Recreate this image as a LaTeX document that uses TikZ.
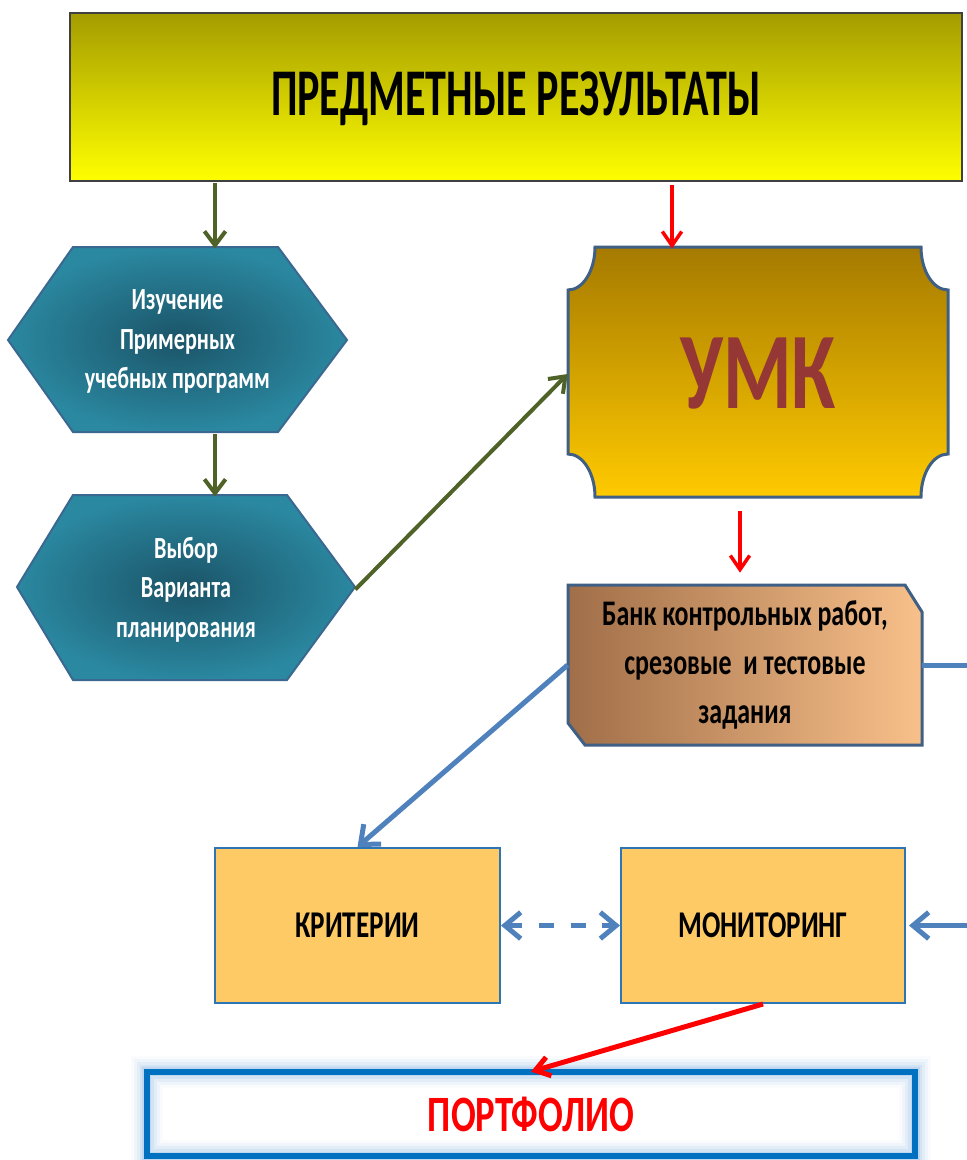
\documentclass[tikz,border=0pt]{standalone}
\usepackage{fontspec}
\setmainfont{Carlito}[FakeStretch=0.72]
\newfontfamily\titlefont{Carlito}[FakeStretch=0.63]
\usetikzlibrary{arrows.meta,calc}

\definecolor{titletop}{HTML}{A49C00}
\definecolor{titlebot}{HTML}{FFFF00}
\definecolor{titleline}{HTML}{404040}
\definecolor{hexdark}{HTML}{1B5468}
\definecolor{hexlight}{HTML}{2A88A0}
\definecolor{hexline}{HTML}{3A6890}
\definecolor{umktop}{HTML}{A57A00}
\definecolor{umkbot}{HTML}{FFCA00}
\definecolor{umktext}{HTML}{953735}
\definecolor{boxline}{HTML}{3F5F85}
\definecolor{bankdark}{HTML}{A06E48}
\definecolor{banklight}{HTML}{F8C08A}
\definecolor{critfill}{HTML}{FECA66}
\definecolor{critline}{HTML}{2E75B6}
\definecolor{olivearrow}{HTML}{4F6228}
\definecolor{bluearrow}{HTML}{4F81BD}
\definecolor{portline}{HTML}{0070C0}
\definecolor{glowblue}{HTML}{9DC3E6}

\def\pxu{0.02cm}

\tikzset{
  textbox/.style={rectangle, inner sep=0pt, align=center},
  greenarrow/.style={draw=olivearrow, line width=4*\pxu,
    -{Straight Barb[length=8pt,width=12pt]}},
  redarrow/.style={draw=red, line width=3.5*\pxu,
    -{Straight Barb[length=8pt,width=11pt]}},
  bluearrow/.style={draw=bluearrow, line width=5*\pxu,
    -{Straight Barb[length=9pt,width=15pt]}},
}

\begin{document}
\begin{tikzpicture}[x=\pxu,y=-\pxu]
  \fill[white] (0,0) rectangle (967,1160);
  \clip (0,0) rectangle (967,1160);

  %%%%%%%%%%%%%%%%%%%%%%%%%%%%%%%%%%%%%%%%%%%%%%%%%%%%%%%%%%%%%%%%%%%%%%%%%%%
  %%%%  Title
  \shade[top color=titletop, bottom color=titlebot, draw=titleline, line width=1.5*\pxu]
    (70,13) rectangle (962,181);
  \node[textbox, minimum width=892*\pxu, minimum height=168*\pxu,
    font=\titlefont\fontsize{38}{40}\selectfont\bfseries] (title) at (516,99) {ПРЕДМЕТНЫЕ РЕЗУЛЬТАТЫ};

  %%%%%%%%%%%%%%%%%%%%%%%%%%%%%%%%%%%%%%%%%%%%%%%%%%%%%%%%%%%%%%%%%%%%%%%%%%%
  %%%%  Hexagons
  \shade[inner color=hexdark, outer color=hexlight, draw=hexline, line width=2*\pxu]
    (8,340) -- (73,247) -- (278,247) -- (347,340) -- (278,432) -- (73,432) -- cycle;
  \node[textbox, text=white, minimum width=339*\pxu, minimum height=185*\pxu,
    font=\fontsize{17.5}{22.5}\selectfont\bfseries] (study) at (177.5,341.5)
    {Изучение\\Примерных\\учебных программ};

  \shade[inner color=hexdark, outer color=hexlight, draw=hexline, line width=2*\pxu]
    (17,587) -- (73,495) -- (287,495) -- (355,587) -- (287,680) -- (73,680) -- cycle;
  \node[textbox, text=white, minimum width=338*\pxu, minimum height=185*\pxu,
    font=\fontsize{17.5}{22.5}\selectfont\bfseries] (choice) at (186,589.5)
    {Выбор\\Варианта\\планирования};

  %%%%%%%%%%%%%%%%%%%%%%%%%%%%%%%%%%%%%%%%%%%%%%%%%%%%%%%%%%%%%%%%%%%%%%%%%%%
  %%%%  UMK plaque
  \shade[top color=umktop, bottom color=umkbot, draw=boxline, line width=3*\pxu]
    (595,247) -- (921,247) arc[start angle=180, end angle=90, x radius=27, y radius=43]
    -- (948,454) arc[start angle=-90, end angle=-180, x radius=27, y radius=43]
    -- (595,497) arc[start angle=0, end angle=-90, x radius=27, y radius=43]
    -- (568,290) arc[start angle=90, end angle=0, x radius=27, y radius=43] -- cycle;
  \node[textbox, text=umktext, minimum width=380*\pxu, minimum height=250*\pxu,
    font=\fontsize{62}{62}\selectfont\bfseries] (umk) at (758,374) {УМК};

  %%%%%%%%%%%%%%%%%%%%%%%%%%%%%%%%%%%%%%%%%%%%%%%%%%%%%%%%%%%%%%%%%%%%%%%%%%%
  %%%%  Bank of tests
  \shade[left color=bankdark, right color=banklight, draw=boxline, line width=3*\pxu]
    (568,585) -- (905,585) -- (922,612) -- (922,745) -- (585,745) -- (568,723) -- cycle;
  \node[textbox, minimum width=354*\pxu, minimum height=160*\pxu,
    font=\fontsize{20.5}{28}\selectfont\bfseries] (bank) at (745,665)
    {Банк контрольных работ,\\срезовые~ и тестовые\\задания};

  %%%%%%%%%%%%%%%%%%%%%%%%%%%%%%%%%%%%%%%%%%%%%%%%%%%%%%%%%%%%%%%%%%%%%%%%%%%
  %%%%  Criteria and monitoring
  \node[textbox, fill=critfill, draw=critline, line width=2*\pxu,
    minimum width=285*\pxu, minimum height=155*\pxu,
    font=\fontsize{21.5}{24}\selectfont\bfseries] (crit) at (357.5,925.5) {КРИТЕРИИ};
  \node[textbox, fill=critfill, draw=critline, line width=2*\pxu,
    minimum width=284*\pxu, minimum height=155*\pxu,
    font=\fontsize{21.5}{24}\selectfont\bfseries] (mon) at (763,925.5) {МОНИТОРИНГ};

  %%%%%%%%%%%%%%%%%%%%%%%%%%%%%%%%%%%%%%%%%%%%%%%%%%%%%%%%%%%%%%%%%%%%%%%%%%%
  %%%%  Portfolio
  \node[textbox, minimum width=768*\pxu, minimum height=84*\pxu] (port) at (531,1114) {};
  \foreach \w/\o in {32/0.06, 26/0.1, 20/0.15, 14/0.22, 9/0.35}
    {\draw[glowblue, opacity=\o, line width=\w*\pxu] (port.north west) rectangle (port.south east);};
  \draw[portline, line width=6*\pxu] (port.north west) rectangle (port.south east);
  \node[text=red, font=\fontsize{29}{31}\selectfont\bfseries] at (port.center) {ПОРТФОЛИО};

  %%%%%%%%%%%%%%%%%%%%%%%%%%%%%%%%%%%%%%%%%%%%%%%%%%%%%%%%%%%%%%%%%%%%%%%%%%%
  %%%%  Connectors
  \coordinate (gx) at (215,0);
  \coordinate (rx) at (672,0);
  \coordinate (ry) at (740,0);

  \draw[greenarrow] (gx |- title.south) -- (gx |- study.north);
  \draw[greenarrow] (gx |- study.south) -- (gx |- choice.north);
  \draw[greenarrow] (choice.east) -- (umk.west);

  \draw[redarrow, shorten <=2*\pxu] (rx |- title.south) -- (rx |- umk.north);
  \draw[redarrow, shorten <=12*\pxu, shorten >=12*\pxu] (ry |- umk.south) -- (ry |- bank.north);

  \draw[bluearrow] (bank.west) -- (crit.north);
  \draw[bluearrow, dash pattern=on 8.5pt off 9.5pt,
    {Straight Barb[length=9pt,width=15pt]}-{Straight Barb[length=9pt,width=15pt]}]
    (crit.east) -- (mon.west);
  \draw[bluearrow, shorten >=3*\pxu] (bank.east) -- ++(90,0) |- (mon.east);

  \draw[redarrow, line width=5*\pxu] (mon.south) -- (port.north);
\end{tikzpicture}
\end{document}
